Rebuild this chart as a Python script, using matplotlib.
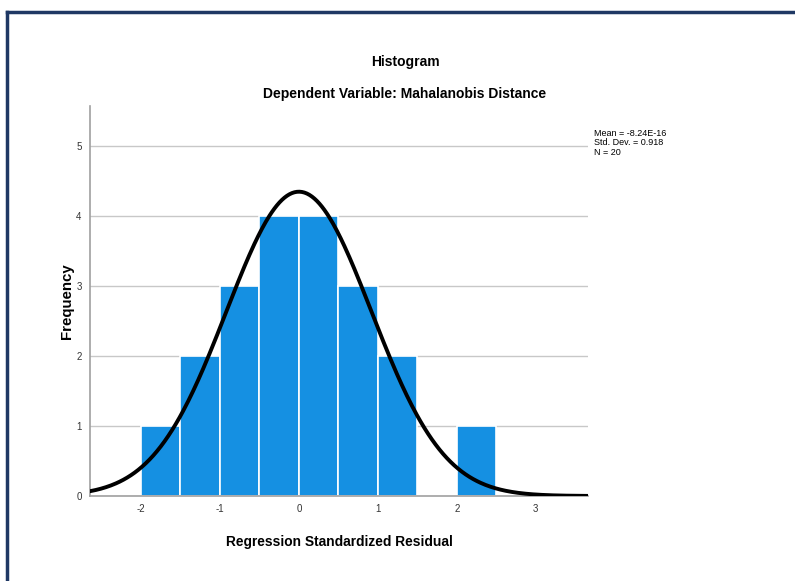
import numpy as np
import matplotlib.pyplot as plt

bin_edges = [-2.0, -1.5, -1.0, -0.5, 0.0, 0.5, 1.0, 1.5, 2.0, 2.5]
counts = [1, 2, 3, 4, 4, 3, 2, 0, 1]
mean = -8.24e-16
std = 0.918
n = 20
xticks = [-2, -1, 0, 1, 2, 3]
yticks = [0, 1, 2, 3, 4, 5]

plt.rcParams['font.family'] = ['Liberation Sans', 'DejaVu Sans']
plt.rcParams['axes.unicode_minus'] = False

fig = plt.figure(figsize=(7.95, 5.81), dpi=100)
ax = fig.add_axes([0.1132, 0.1463, 0.6264, 0.6713])

lefts = np.array(bin_edges[:-1])
widths = np.diff(bin_edges)
ax.bar(lefts, counts, width=widths, align='edge', color='#1590e2',
       edgecolor='white', linewidth=1.2, zorder=2)

xs = np.linspace(-2.65, 3.66, 400)
binw = widths[0]
ys = n * binw / (std * np.sqrt(2 * np.pi)) * np.exp(-0.5 * ((xs - mean) / std) ** 2)
ax.plot(xs, ys, color='black', linewidth=2.8, zorder=3)

ax.set_xlim(-2.645, 3.66)
ax.set_ylim(0, 5.57)
ax.set_xticks(xticks)
ax.set_yticks(yticks)
ax.tick_params(length=0, labelsize=7, colors='#333333', pad=6)
ax.grid(axis='y', color='#c8c8c8', linewidth=1, zorder=0)
ax.set_axisbelow(True)
for s in ['top', 'right']:
    ax.spines[s].set_visible(False)
for s in ['left', 'bottom']:
    ax.spines[s].set_color('#a0a0a0')
    ax.spines[s].set_linewidth(1.2)

ax.set_xlabel('Regression Standardized Residual', fontsize=9.9, fontweight='bold', labelpad=15)
ax.set_ylabel('Frequency', fontsize=10.8, fontweight='bold', labelpad=2)

fig.text(0.5094, 1 - 62 / 581, 'Histogram', ha='center', va='center', fontsize=10, fontweight='bold')
fig.text(0.5094, 1 - 94 / 581, 'Dependent Variable: Mahalanobis Distance', ha='center', va='center',
         fontsize=10, fontweight='bold')

fig.text(594 / 795, 1 - 129 / 581,
         'Mean = -8.24E-16\nStd. Dev. = 0.918\nN = 20',
         ha='left', va='top', fontsize=6.5, linespacing=1.05)

# outer frame
fig.add_artist(plt.Line2D([7 / 795, 7 / 795], [0, 1 - 11.5 / 581], transform=fig.transFigure,
                          color='#1f3864', linewidth=2.5))
fig.add_artist(plt.Line2D([7 / 795, 1], [1 - 11.5 / 581, 1 - 11.5 / 581], transform=fig.transFigure,
                          color='#1f3864', linewidth=2.5))

fig.savefig('out.png', dpi=100)
